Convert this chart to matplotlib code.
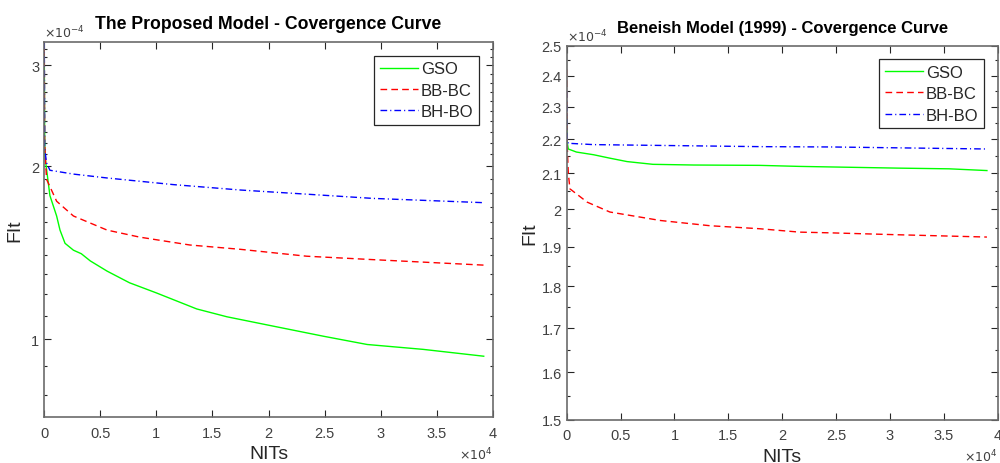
import matplotlib
matplotlib.use("Agg")
import matplotlib.pyplot as plt
from matplotlib.ticker import FixedLocator, NullFormatter, FixedFormatter

plt.rcParams['font.family'] = ['Liberation Sans', 'DejaVu Sans']
plt.rcParams['lines.scale_dashes'] = False

# --- data (x in 1e4 iterations, fitness in 1e-4) ---
# left: proposed model
gso_x_l = [0, 0.003, 0.006, 0.05, 0.11, 0.14, 0.185, 0.26, 0.33, 0.41, 0.56, 0.76, 1.0, 1.36, 1.63, 2.04, 2.49, 2.88, 3.38, 3.92]
gso_y_l = [3.1, 2.3, 2.08, 1.78, 1.64, 1.55, 1.47, 1.43, 1.41, 1.37, 1.315, 1.255, 1.205, 1.13, 1.095, 1.055, 1.013, 0.98, 0.961, 0.935]
bbbc_x_l = [0, 0.003, 0.02, 0.11, 0.26, 0.56, 0.85, 1.30, 1.75, 2.34, 2.93, 3.92]
bbbc_y_l = [3.2, 2.2, 1.90, 1.74, 1.64, 1.55, 1.507, 1.46, 1.435, 1.396, 1.377, 1.347]
bhbo_x_l = [0, 0.003, 0.02, 0.05, 0.26, 0.56, 1.15, 1.75, 2.34, 2.93, 3.92]
bhbo_y_l = [3.29, 2.15, 2.03, 1.97, 1.94, 1.91, 1.86, 1.82, 1.79, 1.76, 1.73]

# right: Beneish model
gso_x_r = [0, 0.005, 0.015, 0.09, 0.25, 0.40, 0.56, 0.80, 1.18, 1.79, 2.16, 3.08, 3.55, 3.9]
gso_y_r = [2.27, 2.19, 2.171, 2.162, 2.154, 2.144, 2.134, 2.126, 2.124, 2.123, 2.120, 2.115, 2.113, 2.108]
bbbc_x_r = [0, 0.005, 0.015, 0.03, 0.19, 0.40, 0.87, 1.33, 1.79, 2.16, 2.46, 3.08, 3.9]
bbbc_y_r = [2.42, 2.18, 2.10, 2.056, 2.019, 1.992, 1.969, 1.955, 1.947, 1.938, 1.936, 1.931, 1.925]
bhbo_x_r = [0, 0.005, 0.015, 0.25, 1.79, 2.46, 3.9]
bhbo_y_r = [2.35, 2.2, 2.188, 2.184, 2.178, 2.177, 2.171]

x_ticks = [0, 0.5, 1, 1.5, 2, 2.5, 3, 3.5, 4]
x_labels = ['0', '0.5', '1', '1.5', '2', '2.5', '3', '3.5', '4']
yl_ticks = [1, 2, 3]
yl_labels = ['1', '2', '3']
yr_ticks = [1.5, 1.6, 1.7, 1.8, 1.9, 2.0, 2.1, 2.2, 2.3, 2.4, 2.5]
yr_labels = ['1.5', '1.6', '1.7', '1.8', '1.9', '2', '2.1', '2.2', '2.3', '2.4', '2.5']

AX = '#262626'
TICK = '#404040'

fig = plt.figure(figsize=(10, 4.64), dpi=100)
ax1 = fig.add_axes([0.0443, 0.0985, 0.4484, 0.8082])
ax2 = fig.add_axes([0.5667, 0.0933, 0.4310, 0.8061])


def draw(ax, gx, gy, rx, ry, bx, by):
    ax.plot(gx, gy, color='#00ff00', lw=1.0, label='GSO')
    ax.plot(rx, ry, color='#ff0000', lw=1.0, dashes=(4.8, 3.0), label='BB-BC')
    ax.plot(bx, by, color='#0000ff', lw=1.0, dashes=(4.8, 2.2, 0.8, 2.2), label='BH-BO')


def style(ax, title, title_size, ticks, labels, minor):
    ax.set_yscale('log')
    ax.set_xlim(0, 4)
    ax.set_xticks(x_ticks)
    ax.set_xticklabels(x_labels)
    ax.yaxis.set_major_locator(FixedLocator(ticks))
    ax.yaxis.set_major_formatter(FixedFormatter(labels))
    ax.yaxis.set_minor_locator(FixedLocator(minor))
    ax.yaxis.set_minor_formatter(NullFormatter())
    ax.tick_params(which='both', direction='in', top=True, right=True,
                   colors=AX, labelcolor=TICK, labelsize=10.5, width=0.8)
    ax.tick_params(which='major', length=5)
    ax.tick_params(which='minor', length=2.5)
    ax.tick_params(axis='x', pad=6)
    for s in ax.spines.values():
        s.set_color('#6b6b6b')
        s.set_linewidth(1.2)
    ax.set_title(title, fontsize=title_size, fontweight='bold', color='black', pad=10)
    ax.set_xlabel('NITs', fontsize=14, color=AX, labelpad=4)
    ax.set_ylabel('FIt', fontsize=14, color=AX)
    leg = ax.legend(loc='upper right', fontsize=12, fancybox=False, framealpha=1,
                    edgecolor=AX, handlelength=2.3, borderpad=0.35, labelspacing=0.38,
                    handletextpad=0.15, borderaxespad=0.8)
    leg.get_frame().set_linewidth(0.9)
    for t in leg.get_texts():
        t.set_color(AX)
    ax.text(0.0, 1.004, r'$\times10^{-4}$', transform=ax.transAxes, fontsize=9,
            color=TICK, ha='left', va='bottom')
    ax.text(1.0, -0.075, r'$\times10^{4}$', transform=ax.transAxes, fontsize=9,
            color=TICK, ha='right', va='top')


draw(ax1, gso_x_l, gso_y_l, bbbc_x_l, bbbc_y_l, bhbo_x_l, bhbo_y_l)
ax1.set_ylim(0.732, 3.29)
style(ax1, 'The Proposed Model - Covergence Curve', 12.7, yl_ticks, yl_labels,
      [v / 10 for v in range(8, 33) if v not in (10, 20, 30)])
ax1.yaxis.set_label_coords(-0.047, 0.5)

draw(ax2, gso_x_r, gso_y_r, bbbc_x_r, bbbc_y_r, bhbo_x_r, bhbo_y_r)
ax2.set_ylim(1.5, 2.5)
style(ax2, 'Beneish Model (1999) - Covergence Curve', 12, yr_ticks, yr_labels,
      [1.55 + 0.1 * i for i in range(10)])
ax2.yaxis.set_label_coords(-0.065, 0.5)

fig.savefig('out.png', dpi=100, facecolor='white')
